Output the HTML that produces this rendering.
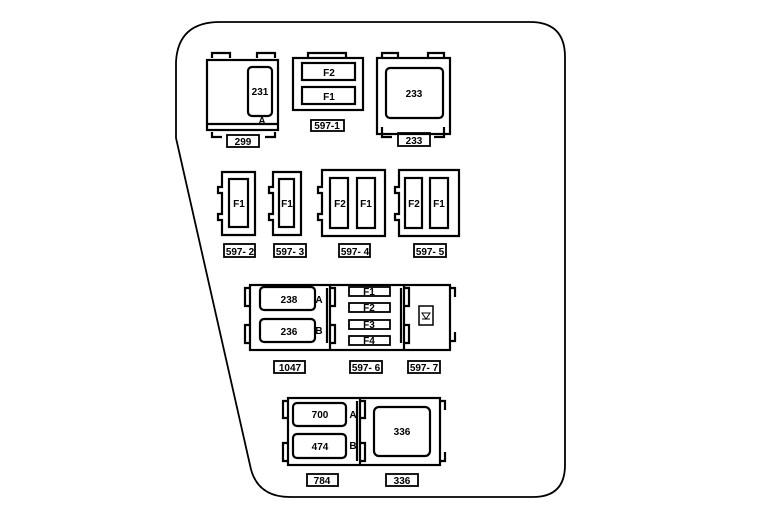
<!DOCTYPE html>
<html><head><style>
html,body{margin:0;padding:0;background:#fff;}
svg{display:block}
text{font-family:"Liberation Sans",Arial,sans-serif;font-weight:bold;font-size:10px;text-anchor:middle;fill:#000}
</style></head><body>
<svg width="770" height="512" viewBox="0 0 770 512" xmlns="http://www.w3.org/2000/svg">
<g fill="none" stroke="#000" stroke-width="2.2">
<!-- outline -->
<path d="M220 22 H530 Q565 22 565 57 V465 Q565 497 533 497 H290 Q256 497 250 465 L176 138 V62 Q178 22 220 22 Z" stroke-width="1.8"/>

<!-- 299 -->
<rect x="207" y="60" width="71" height="70"/>
<line x1="207" y1="124" x2="278" y2="124"/>
<path d="M212 58 V53 H230 V58 M257 58 V53 H275 V58"/>
<path d="M212 132 V137 H222 M275 132 V137 H265"/>
<rect x="248" y="67" width="24" height="49" rx="4"/>
<rect x="227" y="135" width="32" height="12" stroke-width="1.8"/>

<!-- 597-1 -->
<rect x="293" y="58" width="70" height="52"/>
<path d="M308 58 V53 H346 V58"/>
<rect x="302" y="63" width="53" height="17"/>
<rect x="302" y="87" width="53" height="17"/>
<rect x="311" y="120" width="33" height="11" stroke-width="1.8"/>

<!-- 233 -->
<rect x="377" y="58" width="73" height="76"/>
<path d="M382 58 V53 H398 V58 M428 58 V53 H444 V58"/>
<path d="M382 127 V137 H392 M444 127 V137 H434"/>
<rect x="386" y="68" width="57" height="50" rx="4"/>
<rect x="398" y="133" width="32" height="13" stroke-width="1.8"/>

<!-- 597-2 -->
<path d="M222 172 H255 V235 H222 V220 H218 V214 H222 V193 H218 V187 H222 Z"/>
<rect x="229" y="179" width="19" height="48"/>
<rect x="224" y="244" width="31" height="13" stroke-width="1.8"/>
<!-- 597-3 -->
<path d="M273 172 H301 V235 H273 V220 H269 V214 H273 V193 H269 V187 H273 Z"/>
<rect x="279" y="179" width="15" height="48"/>
<rect x="274" y="244" width="32" height="13" stroke-width="1.8"/>
<!-- 597-4 -->
<path d="M322 170 H385 V236 H322 V220 H318 V214 H322 V193 H318 V187 H322 Z"/>
<rect x="330" y="178" width="18" height="50"/>
<rect x="357" y="178" width="18" height="50"/>
<rect x="339" y="244" width="31" height="13" stroke-width="1.8"/>
<!-- 597-5 -->
<path d="M399 170 H459 V236 H399 V220 H395 V214 H399 V193 H395 V187 H399 Z"/>
<rect x="405" y="178" width="17" height="50"/>
<rect x="430" y="178" width="18" height="50"/>
<rect x="414" y="244" width="32" height="13" stroke-width="1.8"/>

<!-- row 3 -->
<rect x="250" y="285" width="200" height="65"/>
<line x1="330" y1="285" x2="330" y2="350"/>
<line x1="404" y1="285" x2="404" y2="350"/>
<path d="M250 288 H245 V306 H250 M250 325 H245 V343 H250"/>
<path d="M330 288 H335 V306 H330 M330 325 H335 V343 H330 M327 288 V343"/>
<path d="M404 288 H409 V306 H404 M404 325 H409 V343 H404 M401 288 V343"/>
<path d="M450 288 H455 V297 M450 341 H455 V332"/>
<rect x="260" y="287" width="55" height="23" rx="4"/>
<rect x="260" y="319" width="55" height="23" rx="4"/>
<rect x="349" y="287" width="41" height="9" stroke-width="1.8"/>
<rect x="349" y="303" width="41" height="9" stroke-width="1.8"/>
<rect x="349" y="320" width="41" height="9" stroke-width="1.8"/>
<rect x="349" y="336" width="41" height="9" stroke-width="1.8"/>
<rect x="419" y="306" width="14" height="19" stroke-width="1.5"/>
<path d="M422 313 H430 L426 319 Z M422 319 H430" stroke-width="1"/>
<rect x="274" y="361" width="31" height="12" stroke-width="1.8"/>
<rect x="350" y="361" width="32" height="12" stroke-width="1.8"/>
<rect x="408" y="361" width="32" height="12" stroke-width="1.8"/>

<!-- row 4 -->
<rect x="288" y="398" width="152" height="67"/>
<line x1="360" y1="398" x2="360" y2="465"/>
<path d="M288 401 H283 V418 H288 M288 443 H283 V461 H288"/>
<path d="M360 401 H365 V418 H360 M360 443 H365 V461 H360 M357 401 V461"/>
<path d="M440 401 H445 V410 M440 461 H445 V452"/>
<rect x="293" y="403" width="53" height="23" rx="4"/>
<rect x="293" y="434" width="53" height="24" rx="4"/>
<rect x="374" y="407" width="56" height="49" rx="5"/>
<rect x="307" y="474" width="31" height="12" stroke-width="1.8"/>
<rect x="386" y="474" width="32" height="12" stroke-width="1.8"/>
</g>
<text x="260" y="95">231</text>
<text x="262" y="124" font-size="8">A</text>
<text x="243" y="145">299</text>
<text x="329" y="76">F2</text>
<text x="329" y="100">F1</text>
<text x="327" y="129">597-1</text>
<text x="414" y="97">233</text>
<text x="414" y="144">233</text>
<text x="239" y="207">F1</text>
<text x="240" y="255">597- 2</text>
<text x="287" y="207">F1</text>
<text x="290" y="255">597- 3</text>
<text x="340" y="207">F2</text>
<text x="366" y="207">F1</text>
<text x="355" y="255">597- 4</text>
<text x="414" y="207">F2</text>
<text x="439" y="207">F1</text>
<text x="430" y="255">597- 5</text>
<text x="289" y="303">238</text>
<text x="289" y="335">236</text>
<text x="319" y="303" font-size="8" font-weight="normal">A</text>
<text x="319" y="334" font-size="8" font-weight="normal">B</text>
<text x="369" y="295" font-size="9">F1</text>
<text x="369" y="311" font-size="9">F2</text>
<text x="369" y="328" font-size="9">F3</text>
<text x="369" y="344" font-size="9">F4</text>
<text x="290" y="371">1047</text>
<text x="366" y="371">597- 6</text>
<text x="424" y="371">597- 7</text>
<text x="320" y="418">700</text>
<text x="320" y="450">474</text>
<text x="353" y="418" font-size="8" font-weight="normal">A</text>
<text x="353" y="449" font-size="8" font-weight="normal">B</text>
<text x="402" y="435">336</text>
<text x="322" y="484">784</text>
<text x="402" y="484">336</text>
</svg>
</body></html>
